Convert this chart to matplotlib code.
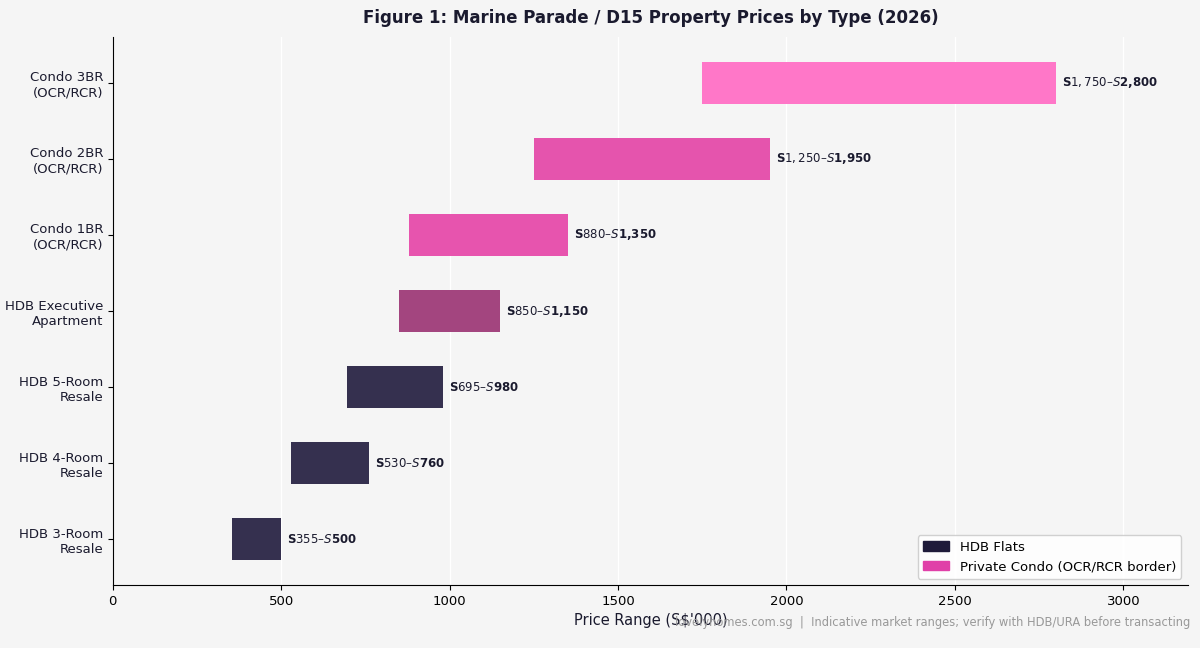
import matplotlib.pyplot as plt
from matplotlib.patches import Patch

types = ['HDB 3-Room\nResale', 'HDB 4-Room\nResale', 'HDB 5-Room\nResale',
         'HDB Executive\nApartment', 'Condo 1BR\n(OCR/RCR)', 'Condo 2BR\n(OCR/RCR)',
         'Condo 3BR\n(OCR/RCR)']
low = [355, 530, 695, 850, 880, 1250, 1750]
high = [500, 760, 980, 1150, 1350, 1950, 2800]
colors = ['#35304f', '#35304f', '#35304f', '#a3457f', '#e754ae', '#e554ad', '#ff77c8']

bg = '#f5f5f5'
fig, ax = plt.subplots(figsize=(12, 6.48), dpi=100)
fig.patch.set_facecolor(bg)
ax.set_facecolor(bg)

y = range(len(types))
widths = [h - l for l, h in zip(low, high)]
ax.barh(y, widths, left=low, height=0.55, color=colors, zorder=3)

for i in y:
    ax.text(high[i] + 18, i, f"S${low[i]:,}–S${high[i]:,}", va='center', ha='left',
            fontsize=8.5, fontweight='bold', color='#1a1a2e', zorder=4)

ax.set_yticks(list(y))
ax.set_yticklabels(types, fontsize=9.5, color='#1a1a2e')
ax.set_xlim(0, 3192)
ax.set_xlabel("Price Range (S$'000)", fontsize=10.5, color='#1a1a2e')
ax.tick_params(axis='x', labelsize=9.5)
ax.set_title('Figure 1: Marine Parade / D15 Property Prices by Type (2026)',
             fontsize=12, fontweight='bold', color='#1a1a2e', pad=10)
ax.grid(axis='x', color='white', linewidth=1, zorder=0)
ax.spines['top'].set_visible(False)
ax.spines['right'].set_visible(False)

handles = [Patch(color='#1f1b3a', label='HDB Flats'),
           Patch(color='#e040a8', label='Private Condo (OCR/RCR border)')]
ax.legend(handles=handles, loc='lower right', fontsize=9.5, facecolor='white', framealpha=0.9)

fig.text(0.992, 0.03, 'lovelyhomes.com.sg  |  Indicative market ranges; verify with HDB/URA before transacting',
         ha='right', va='bottom', fontsize=8.3, color='#999999')

plt.subplots_adjust(left=0.094, right=0.99, top=0.943, bottom=0.097)
plt.savefig('out.png', facecolor=bg)
